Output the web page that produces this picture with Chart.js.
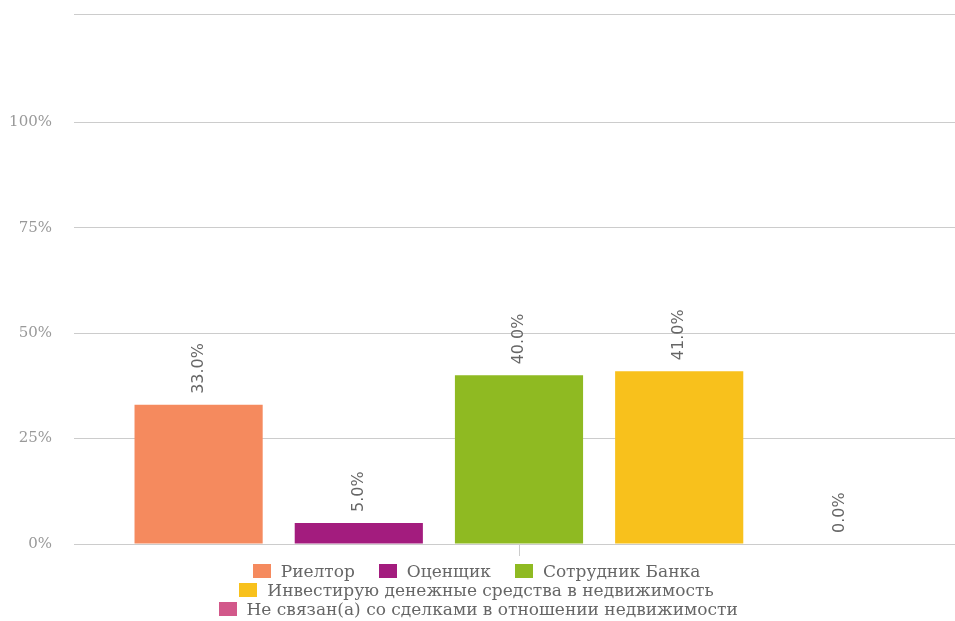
<!DOCTYPE html>
<html>
<head>
<meta charset="utf-8">
<script src="https://cdn.jsdelivr.net/npm/chart.js@4/dist/chart.umd.min.js"></script>
<style>
  html, body { margin: 0; padding: 0; background: #fff; overflow: hidden; }
  #wrap { width: 964px; height: 592px; margin-top: -17px; }
  #legend {
    width: 540px; margin: -13px auto 0; text-align: center;
    font: 17px "DejaVu Serif"; color: #666; line-height: 19px;
    position: relative; left: -1px;
  }
  #legend .item { display: inline-block; white-space: nowrap; margin: 0 12px; }
  #legend .box { display: inline-block; width: 18px; height: 14px; margin-right: 10px; vertical-align: -1px; }
</style>
</head>
<body>
<div id="wrap"><canvas id="myChart"></canvas></div>
<div id="legend"></div>
<script>
const categories = [''];
const seriesNames = [
    'Риелтор',
    'Оценщик',
    'Сотрудник Банка',
    'Инвестирую денежные средства в недвижимость',
    'Не связан(а) со сделками в отношении недвижимости'
];
const seriesValues = [33.0, 5.0, 40.0, 41.0, 0.0];
const seriesColors = ['#f58a5e', '#a31c7e', '#8fba22', '#f8c11c', '#d2588a'];
const yMax = 125.7;
const yTicks = [0, 25, 50, 75, 100, yMax];

// value labels standing upright above each bar
const barLabels = {
    id: 'barLabels',
    afterDatasetsDraw(chart) {
        const ctx = chart.ctx;
        ctx.save();
        ctx.font = '16px "DejaVu Sans"';
        ctx.fillStyle = '#666';
        ctx.textAlign = 'left';
        ctx.textBaseline = 'middle';
        chart.data.datasets.forEach((ds, i) => {
            const bar = chart.getDatasetMeta(i).data[0];
            ctx.save();
            ctx.translate(bar.x, bar.y - 11);
            ctx.rotate(-Math.PI / 2);
            ctx.fillText(ds.data[0].toFixed(1) + '%', 0, 0);
            ctx.restore();
        });
        ctx.restore();
    }
};

document.addEventListener('DOMContentLoaded', () => {
    const ctx = document.getElementById('myChart').getContext('2d');

    const chart = new Chart(ctx, {
        type: 'bar',
        data: {
            labels: categories,
            datasets: seriesNames.map((name, i) => ({
                label: name,
                data: [seriesValues[i]],
                backgroundColor: seriesColors[i],
                borderWidth: 0,
                barPercentage: 0.8,
                categoryPercentage: 0.9
            }))
        },
        options: {
            responsive: true,
            maintainAspectRatio: false,
            animation: false,
            layout: { padding: 0 },
            plugins: {
                tooltip: { enabled: false },
                legend: { display: false }
            },
            scales: {
                x: {
                    afterFit(scale) { scale.height = 13; },
                    grid: { display: true, drawOnChartArea: false, tickLength: 12, color: '#ccc', offset: false },
                    border: { display: true, color: '#ccc' },
                    ticks: { display: false }
                },
                y: {
                    min: 0,
                    max: yMax,
                    afterBuildTicks(axis) {
                        axis.ticks = yTicks.map(v => ({ value: v }));
                    },
                    afterFit(scale) { scale.width = 74; },
                    grid: { color: '#ccc', drawTicks: false },
                    border: { display: false },
                    ticks: {
                        padding: 22,
                        color: '#999',
                        font: { family: '"DejaVu Serif"', size: 15 },
                        callback: v => (v > 100 ? '' : v + '%')
                    }
                }
            }
        },
        plugins: [barLabels]
    });

    // legend as html so the rows wrap like the original layout
    const legend = document.getElementById('legend');
    chart.data.datasets.forEach(ds => {
        const item = document.createElement('span');
        item.className = 'item';
        const box = document.createElement('span');
        box.className = 'box';
        box.style.background = ds.backgroundColor;
        item.appendChild(box);
        item.appendChild(document.createTextNode(ds.label));
        legend.appendChild(item);
    });
});
</script>
</body>
</html>
